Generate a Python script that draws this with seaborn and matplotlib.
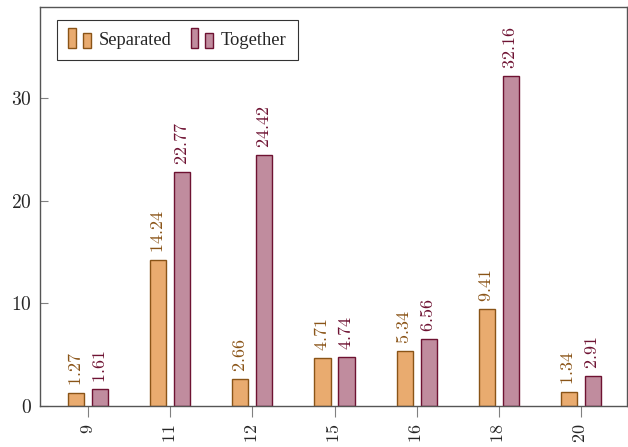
import matplotlib
matplotlib.use("Agg")
import matplotlib.pyplot as plt
import matplotlib.patches as mpatches
from matplotlib.legend_handler import HandlerBase
import seaborn as sns
import pandas as pd

categories = ["9", "11", "12", "15", "16", "18", "20"]
separated = [1.27, 14.24, 2.66, 4.71, 5.34, 9.41, 1.34]
together = [1.61, 22.77, 24.42, 4.74, 6.56, 32.16, 2.91]
series_names = ["Separated", "Together"]
y_ticks = [0, 10, 20, 30]

fills = ["#E9AB6F", "#C08C9E"]
edges = ["#8A5417", "#6E1232"]
label_colors = ["#8A5417", "#6E1232"]

df = pd.DataFrame({
    "cat": categories * 2,
    "val": separated + together,
    "series": [series_names[0]] * len(categories) + [series_names[1]] * len(categories),
})

sns.set_style("white")
plt.rcParams["font.family"] = ["Liberation Serif", "DejaVu Serif"]
plt.rcParams["mathtext.fontset"] = "cm"

fig = plt.figure(figsize=(6.28, 4.47), dpi=100)
ax = fig.add_axes([40 / 628, (447 - 406) / 447, 587 / 628, 399 / 447])

sns.barplot(data=df, x="cat", y="val", hue="series", order=categories,
            hue_order=series_names, palette=fills, saturation=1, width=0.584, gap=0.33,
            linewidth=1.0, ax=ax, legend=False)

for i, cont in enumerate(ax.containers):
    for p in cont.patches:
        p.set_edgecolor(edges[i])
        p.set_linewidth(1.0)
    vals = separated if i == 0 else together
    ax.bar_label(cont, labels=[f"${v:.2f}$" for v in vals], rotation=90,
                 padding=5, color=label_colors[i], fontsize=13)

ax.set_xlim(-0.585, 6.56)
ax.set_ylim(0, 38.85)
ax.set_yticks(y_ticks)
ax.set_yticklabels([f"${t}$" for t in y_ticks], fontsize=14)
ax.set_xticks(range(len(categories)))
ax.set_xticklabels([f"${c}$" for c in categories], rotation=90, fontsize=13)
ax.set_xlabel("")
ax.set_ylabel("")
ax.tick_params(axis="y", direction="in", length=6, color="#808080", width=0.8, left=True, pad=6)
ax.tick_params(axis="x", direction="out", length=8, color="#808080", width=0.8, bottom=True, pad=5)
for s in ax.spines.values():
    s.set_color("#555555")
    s.set_linewidth(1.0)
    s.set_visible(True)


class TwoBarHandler(HandlerBase):
    def __init__(self, fill, edge):
        super().__init__()
        self.fill = fill
        self.edge = edge

    def create_artists(self, legend, orig_handle, xdescent, ydescent, width,
                       height, fontsize, trans):
        w = width * 0.33
        r1 = mpatches.Rectangle((-xdescent, -ydescent - 0.25 * height), w, height * 1.55,
                                facecolor=self.fill, edgecolor=self.edge, lw=1.0, transform=trans)
        r2 = mpatches.Rectangle((-xdescent + width * 0.67, -ydescent - 0.25 * height), w, height * 1.15,
                                facecolor=self.fill, edgecolor=self.edge, lw=1.0, transform=trans)
        return [r1, r2]


h1 = mpatches.Patch(facecolor=fills[0], edgecolor=edges[0], label=series_names[0])
h2 = mpatches.Patch(facecolor=fills[1], edgecolor=edges[1], label=series_names[1])
leg = ax.legend(handles=[h1, h2], labels=series_names, loc="upper left",
                bbox_to_anchor=(0.029, 0.967), ncol=2, fontsize=13.3,
                frameon=True, fancybox=False, edgecolor="black",
                handler_map={h1: TwoBarHandler(fills[0], edges[0]),
                             h2: TwoBarHandler(fills[1], edges[1])},
                handlelength=1.2, handletextpad=0.42, columnspacing=1.05,
                borderpad=0.62, borderaxespad=0)
leg.get_frame().set_linewidth(0.8)

fig.savefig("out.png", dpi=100)
